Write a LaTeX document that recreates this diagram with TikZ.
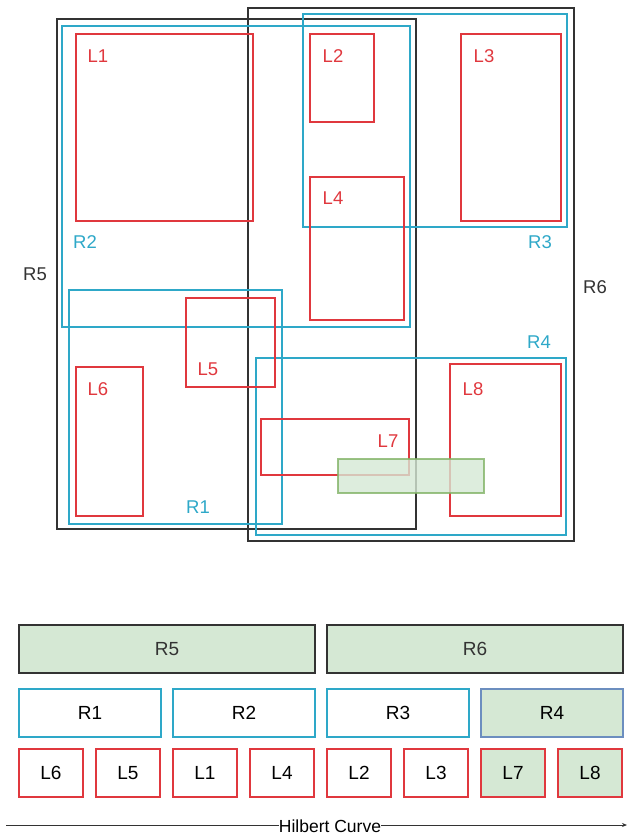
\documentclass[tikz,border=0pt]{standalone}
\usepackage{fontspec}
\setmainfont{Liberation Sans}
\usepackage{xcolor}
\usetikzlibrary{arrows.meta,positioning}
\definecolor{rtred}{RGB}{224,56,62}
\definecolor{rtblue}{RGB}{46,168,200}
\definecolor{rtgray}{RGB}{51,51,51}
\definecolor{rtgreen}{RGB}{213,232,212}
\definecolor{rtgreenline}{RGB}{130,179,102}
\definecolor{rtpale}{RGB}{108,142,191}

\begin{document}
\begin{tikzpicture}[
  x=1pt, y=-1pt,
  lbl/.style={font=\fontsize{18.5}{20}\selectfont, inner sep=0pt},
  upper/.style={draw=rtgray, line width=2pt},
  inner/.style={draw=rtblue, line width=2pt},
  leafbox/.style={draw=rtred, line width=2pt},
  query/.style={draw=rtgreenline, fill=rtgreen, line width=2.5pt, opacity=0.8},
  cell/.style={line width=2pt, outer sep=0pt, inner sep=0pt, minimum height=48pt, font=\fontsize{19}{20}\selectfont},
  rootcell/.style={cell, draw=rtgray, fill=rtgreen, text=rtgray, minimum width=296pt},
  midcell/.style={cell, draw=rtblue, fill=white, minimum width=142pt},
  leafcell/.style={cell, draw=rtred, fill=white, minimum width=64pt},
  arr/.style={-{Stealth[length=5pt,width=4pt]}, draw=rtgray, line width=1pt}
]
\useasboundingbox (0,0) rectangle (627,835);

% spatial view
\draw[upper] (57,19) rectangle (416,529);
\draw[upper] (248,8) rectangle (574,541);
\draw[inner] (62,26) rectangle (410,327);
\draw[inner] (303,14) rectangle (567,227);
\draw[inner] (69,290) rectangle (282,524);
\draw[inner] (256,358) rectangle (566,535);
\draw[leafbox] (76,34) rectangle (253,221);
\draw[leafbox] (310,34) rectangle (374,122);
\draw[leafbox] (461,34) rectangle (561,221);
\draw[leafbox] (310,177) rectangle (404,320);
\draw[leafbox] (186,298) rectangle (275,387);
\draw[leafbox] (76,367) rectangle (143,516);
\draw[leafbox] (261,419) rectangle (409,475);
\draw[leafbox] (450,364) rectangle (561,516);
\draw[query] (338,459) rectangle (484,493);

\node[lbl, text=rtgray] (r5lbl) at (35,274) {R5};
\node[lbl, text=rtgray] (r6lbl) at (595,287) {R6};
\node[lbl, text=rtblue] (r1lbl) at (198,507) {R1};
\node[lbl, text=rtblue] (r2lbl) at (85,242) {R2};
\node[lbl, text=rtblue] (r3lbl) at (540,242) {R3};
\node[lbl, text=rtblue] (r4lbl) at (539,342) {R4};
\node[lbl, text=rtred] (l1lbl) at (98,56) {L1};
\node[lbl, text=rtred] (l2lbl) at (333,56) {L2};
\node[lbl, text=rtred] (l3lbl) at (484,56) {L3};
\node[lbl, text=rtred] (l4lbl) at (333,198) {L4};
\node[lbl, text=rtred] (l5lbl) at (208,369) {L5};
\node[lbl, text=rtred] (l6lbl) at (98,389) {L6};
\node[lbl, text=rtred] (l7lbl) at (388,441) {L7};
\node[lbl, text=rtred] (l8lbl) at (473,389) {L8};

% tree order
\node[rootcell] (r5) at (167,649) {R5};
\node[rootcell, right=12pt of r5] (r6) {R6};
\node[midcell] (r1) at (90,713) {R1};
\node[midcell, right=12pt of r1] (r2) {R2};
\node[midcell, right=12pt of r2] (r3) {R3};
\node[midcell, right=12pt of r3, draw=rtpale, fill=rtgreen] (r4) {R4};
\node[leafcell] (l6) at (51,773) {L6};
\node[leafcell, right=13pt of l6] (l5) {L5};
\node[leafcell, right=13pt of l5] (l1) {L1};
\node[leafcell, right=13pt of l1] (l4) {L4};
\node[leafcell, right=13pt of l4] (l2) {L2};
\node[leafcell, right=13pt of l2] (l3) {L3};
\node[leafcell, right=13pt of l3, fill=rtgreen] (l7) {L7};
\node[leafcell, right=13pt of l7, fill=rtgreen] (l8) {L8};

\coordinate (hstart) at (6,825);
\coordinate (hend) at (627,825);
\node[fill=white, inner sep=0pt, font=\fontsize{17.5}{19}\selectfont] (hilbert) at (330,826) {Hilbert Curve};
\draw[draw=rtgray, line width=1pt] (hstart) -- (hilbert.west |- hstart);
\draw[arr] (hilbert.east |- hend) -- (hend);
\end{tikzpicture}
\end{document}
